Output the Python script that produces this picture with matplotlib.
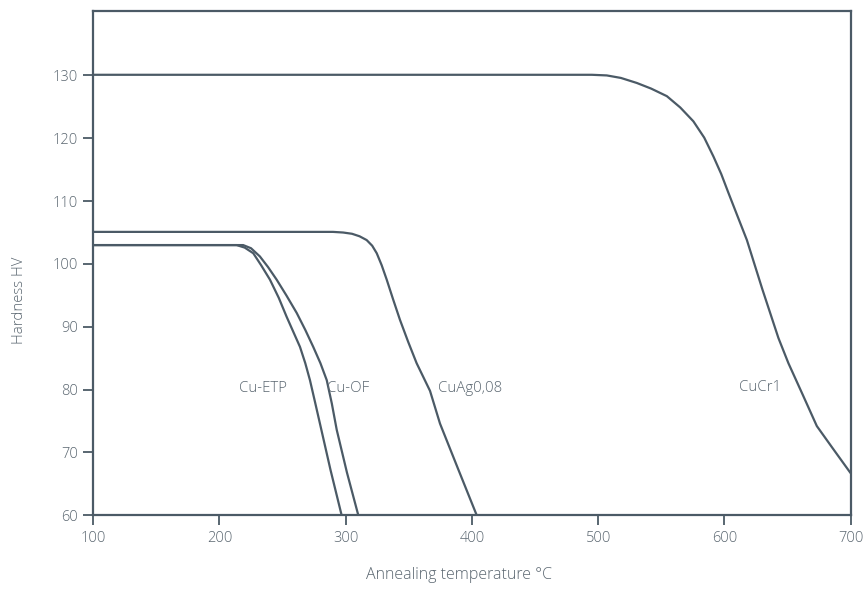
import matplotlib
matplotlib.use("Agg")
import matplotlib.pyplot as plt

# Data
etp_x = [100, 200, 213.6, 220, 226.8, 233, 240, 247, 253.2, 258.5, 263.8, 268, 271.7, 275.5, 279.6, 288, 296.8]
etp_y = [103, 103, 103, 102.6, 101.7, 99.8, 97.5, 94.6, 91.6, 89.2, 86.8, 84.2, 81.5, 78.2, 74.6, 67.2, 60]

of_x = [100, 210, 218.8, 225, 232, 238.5, 245.3, 253, 261.2, 268, 274.3, 280, 285, 289, 292.9, 301, 310]
of_y = [103, 103, 103, 102.5, 101.2, 99.5, 97.5, 95, 92.2, 89.5, 86.8, 84.2, 81.5, 77.8, 73.6, 66.8, 60]

ag_x = [100, 290, 298, 305, 311, 316.6, 321, 324.6, 328.5, 332.5, 337.5, 343, 349.5, 356.2, 361.5, 366.8, 374.7, 389, 403.8]
ag_y = [105.1, 105.1, 105, 104.8, 104.4, 103.8, 102.9, 101.7, 99.8, 97.5, 94.4, 91.1, 87.6, 84.2, 82, 79.8, 74.6, 67.4, 60]

cr_x = [100, 495, 506.8, 518, 530.6, 542, 554.4, 565, 575.4, 584, 591.3, 597.5, 603.2, 610, 617.8, 630, 642.8, 650.7, 662, 673.2, 686, 700]
cr_y = [130.1, 130.1, 130, 129.6, 128.8, 127.9, 126.7, 124.9, 122.7, 120.1, 117.1, 114.3, 111.3, 107.8, 103.8, 96, 88.2, 84.2, 79.2, 74.2, 70.6, 66.7]

labels = ["Cu-ETP", "Cu-OF", "CuAg0,08", "CuCr1"]
label_x = [234.7, 302, 398.8, 628]
label_y = [80.2, 80.2, 80.2, 80.4]

xticks = [100, 200, 300, 400, 500, 600, 700]
yticks = [60, 70, 80, 90, 100, 110, 120, 130]

line_color = "#4b5a66"
text_color = "#5a6670"

plt.rcParams['font.family'] = ['Open Sans', 'DejaVu Sans']

fig = plt.figure(figsize=(8.63, 5.91), dpi=100)
ax = fig.add_axes([0.108, 0.1281, 0.8777, 0.8538])

for xs, ys in [(etp_x, etp_y), (of_x, of_y), (ag_x, ag_y), (cr_x, cr_y)]:
    ax.plot(xs, ys, color=line_color, lw=1.6, solid_joinstyle='round', solid_capstyle='butt', clip_on=True)

for t, lx, ly in zip(labels, label_x, label_y):
    ax.text(lx, ly, t, ha='center', va='center', fontsize=10.8, color=text_color, fontweight='light')

ax.set_xlim(100, 700)
ax.set_ylim(60, 140.3)
ax.set_xticks(xticks)
ax.set_yticks(yticks)
ax.tick_params(direction='out', length=7, width=1.3, color=line_color,
               labelcolor=text_color, labelsize=10.5, pad=4)
for lab in ax.get_xticklabels() + ax.get_yticklabels():
    lab.set_fontweight('light')
for s in ax.spines.values():
    s.set_color(line_color)
    s.set_linewidth(1.6)

ax.set_xlabel("Annealing temperature °C", fontsize=11.5, color=text_color, fontweight='light')
ax.set_ylabel("Hardness HV", fontsize=10.7, color=text_color, fontweight='light')
ax.xaxis.set_label_coords(0.4828, -0.1025)
ax.yaxis.set_label_coords(-0.0875, 0.4267)

fig.savefig("out.png", dpi=100)
